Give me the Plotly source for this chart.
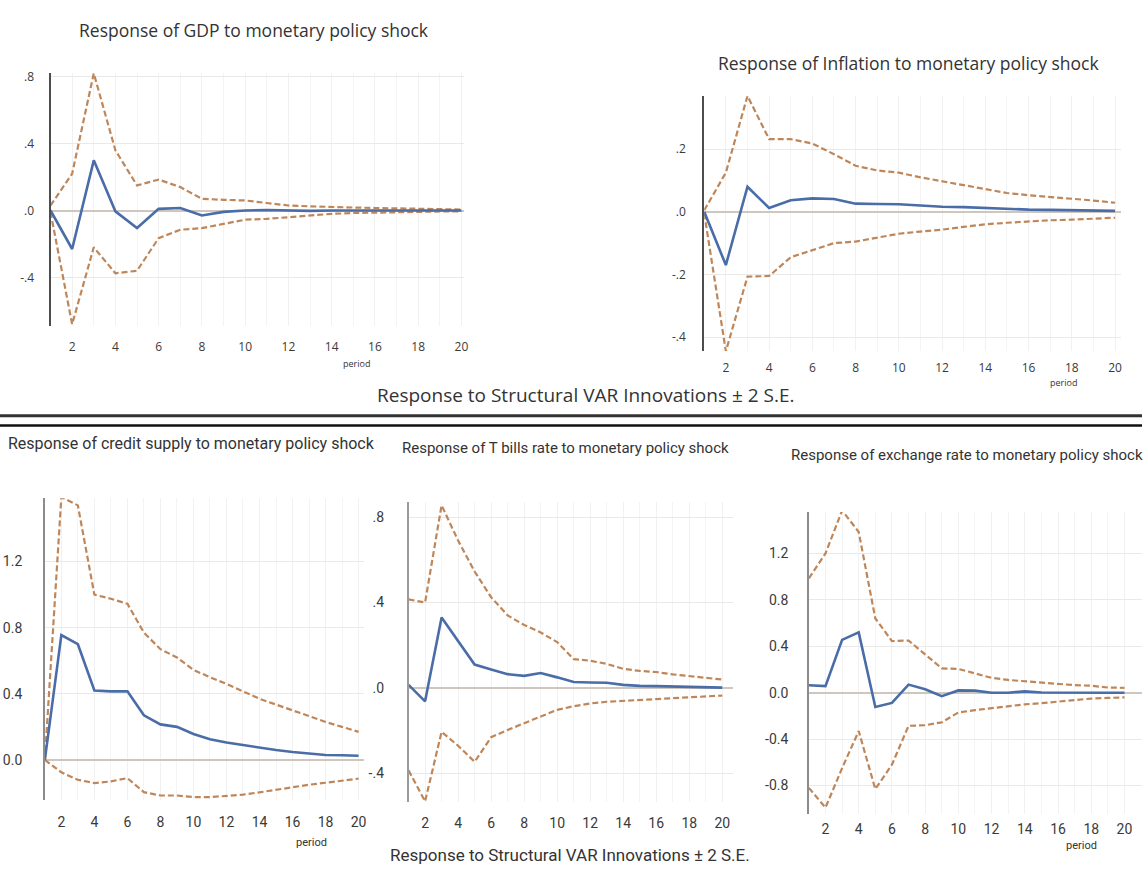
import plotly.graph_objects as go

# Impulse responses to a monetary policy shock, periods 1..20
periods = list(range(1, 21))

gdp_resp = [0.0, -0.23, 0.30, -0.005, -0.105, 0.01, 0.015, -0.03, -0.008, 0.0,
            0.003, 0.0, -0.002, 0.0, 0.0, 0.0, 0.0, 0.0, 0.0, 0.0]
gdp_upper = [0.03, 0.22, 0.82, 0.36, 0.15, 0.185, 0.14, 0.07, 0.064, 0.06,
             0.045, 0.03, 0.025, 0.02, 0.018, 0.015, 0.012, 0.01, 0.008, 0.006]
gdp_lower = [-0.01, -0.68, -0.22, -0.375, -0.36, -0.165, -0.115, -0.105, -0.08, -0.055,
             -0.05, -0.04, -0.03, -0.02, -0.015, -0.012, -0.01, -0.008, -0.006, -0.005]

infl_resp = [0.0, -0.17, 0.08, 0.012, 0.037, 0.043, 0.041, 0.026, 0.025, 0.024,
             0.02, 0.016, 0.015, 0.012, 0.01, 0.007, 0.006, 0.005, 0.004, 0.003]
infl_upper = [0.005, 0.125, 0.37, 0.232, 0.232, 0.218, 0.184, 0.147, 0.132, 0.125,
              0.11, 0.098, 0.085, 0.072, 0.06, 0.053, 0.048, 0.043, 0.036, 0.029]
infl_lower = [-0.005, -0.445, -0.207, -0.205, -0.145, -0.123, -0.10, -0.095, -0.082, -0.07,
              -0.063, -0.057, -0.048, -0.04, -0.035, -0.03, -0.027, -0.025, -0.022, -0.019]

credit_resp = [0.0, 0.755, 0.70, 0.42, 0.415, 0.415, 0.27, 0.215, 0.20, 0.157,
               0.125, 0.105, 0.09, 0.073, 0.06, 0.048, 0.04, 0.03, 0.028, 0.025]
credit_upper = [0.0, 1.59, 1.54, 1.0, 0.975, 0.945, 0.77, 0.67, 0.62, 0.545,
                0.50, 0.46, 0.415, 0.37, 0.335, 0.30, 0.265, 0.23, 0.20, 0.17]
credit_lower = [0.0, -0.075, -0.12, -0.14, -0.13, -0.11, -0.195, -0.215, -0.215, -0.225,
                -0.225, -0.218, -0.21, -0.196, -0.18, -0.163, -0.15, -0.138, -0.127, -0.113]

tbill_resp = [0.015, -0.062, 0.33, 0.218, 0.11, 0.087, 0.065, 0.057, 0.07, 0.05,
              0.028, 0.026, 0.025, 0.015, 0.01, 0.009, 0.008, 0.005, 0.004, 0.002]
tbill_upper = [0.415, 0.40, 0.855, 0.69, 0.545, 0.425, 0.34, 0.295, 0.26, 0.215,
               0.135, 0.128, 0.113, 0.09, 0.08, 0.075, 0.064, 0.056, 0.048, 0.04]
tbill_lower = [-0.385, -0.53, -0.205, -0.27, -0.345, -0.23, -0.196, -0.165, -0.133, -0.102,
               -0.085, -0.072, -0.064, -0.06, -0.056, -0.05, -0.047, -0.044, -0.04, -0.035]

fx_resp = [0.065, 0.057, 0.455, 0.52, -0.123, -0.088, 0.07, 0.03, -0.03, 0.02,
           0.018, 0.0, 0.0, 0.012, 0.002, 0.0, 0.0, 0.0, 0.0, 0.0]
fx_upper = [0.985, 1.20, 1.57, 1.385, 0.64, 0.445, 0.45, 0.33, 0.21, 0.205,
            0.168, 0.128, 0.11, 0.098, 0.085, 0.072, 0.065, 0.06, 0.045, 0.042]
fx_lower = [-0.82, -0.99, -0.65, -0.33, -0.83, -0.62, -0.285, -0.28, -0.255, -0.17,
            -0.15, -0.133, -0.12, -0.10, -0.09, -0.075, -0.065, -0.05, -0.045, -0.04]

x_tick_vals = [2, 4, 6, 8, 10, 12, 14, 16, 18, 20]
x_tick_text = ["2", "4", "6", "8", "10", "12", "14", "16", "18", "20"]

gdp_ticks = ([-0.4, 0.0, 0.4, 0.8], ["-.4", ".0", ".4", ".8"])
infl_ticks = ([-0.4, -0.2, 0.0, 0.2], ["-.4", "-.2", ".0", ".2"])
credit_ticks = ([0.0, 0.4, 0.8, 1.2], ["0.0", "0.4", "0.8", "1.2"])
tbill_ticks = ([-0.4, 0.0, 0.4, 0.8], ["-.4", ".0", ".4", ".8"])
fx_ticks = ([-0.8, -0.4, 0.0, 0.4, 0.8, 1.2], ["-0.8", "-0.4", "0.0", "0.4", "0.8", "1.2"])

W, H = 1146, 871
BLUE = "#4a6da8"
ORANGE = "#bf8659"
TOP_FONT = "Open Sans, Noto Sans, sans-serif"
NARROW_FONT = "Roboto, Liberation Sans, sans-serif"


def px(x):
    return x / W


def py(y):
    return 1 - y / H


# Panel geometry in page pixels: left edge (period 1), right edge, pixels per period,
# top, bottom, pixel row of zero, value per pixel
panels = [
    dict(resp=gdp_resp, up=gdp_upper, lo=gdp_lower, ticks=gdp_ticks,
         x0=50.7, x1=466, ppp=21.7, top=68, bot=323.3, zero=206.7, upp=0.4 / 67.3,
         axis_color="#4d4d4d", axis_w=2, font=TOP_FONT, tick_size=12,
         ystand=12, xstand=12),
    dict(resp=infl_resp, up=infl_upper, lo=infl_lower, ticks=infl_ticks,
         x0=706.7, x1=1125, ppp=21.7, top=91.7, bot=348.3, zero=208, upp=0.2 / 63,
         axis_color="#4d4d4d", axis_w=2, font=TOP_FONT, tick_size=12,
         ystand=14, xstand=8),
    dict(resp=credit_resp, up=credit_upper, lo=credit_lower, ticks=credit_ticks,
         x0=45, x1=365, ppp=16.57, top=496, bot=800, zero=759.3, upp=0.4 / 66.5,
         axis_color="#8c8c8c", axis_w=1.5, font=NARROW_FONT, tick_size=14,
         ystand=18, xstand=12),
    dict(resp=tbill_resp, up=tbill_upper, lo=tbill_lower, ticks=tbill_ticks,
         x0=410, x1=736, ppp=16.57, top=500, bot=801.7, zero=687, upp=0.4 / 86,
         axis_color="#9a9a9a", axis_w=1.5, font=NARROW_FONT, tick_size=14,
         ystand=20, xstand=11),
    dict(resp=fx_resp, up=fx_upper, lo=fx_lower, ticks=fx_ticks,
         x0=811.7, x1=1146, ppp=16.67, top=510, bot=813.3, zero=691.7, upp=0.4 / 46.7,
         axis_color="#8c8c8c", axis_w=1.5, font=NARROW_FONT, tick_size=14,
         ystand=16, xstand=5),
]

fig = go.Figure()
layout_axes = {}

for i, p in enumerate(panels, start=1):
    xa = "x" if i == 1 else f"x{i}"
    ya = "y" if i == 1 else f"y{i}"
    for series, color, dash, width in ((p["up"], ORANGE, "6px,3px", 2.2),
                                       (p["lo"], ORANGE, "6px,3px", 2.2),
                                       (p["resp"], BLUE, "solid", 2.6)):
        fig.add_trace(go.Scatter(x=periods, y=series, mode="lines",
                                 line=dict(color=color, dash=dash, width=width),
                                 xaxis=xa, yaxis=ya, showlegend=False,
                                 hoverinfo="skip"))
    x_max = 1 + (p["x1"] - p["x0"]) / p["ppp"]
    y_max = (p["zero"] - p["top"]) * p["upp"]
    y_min = -(p["bot"] - p["zero"]) * p["upp"]
    key = "" if i == 1 else str(i)
    layout_axes[f"xaxis{key}"] = dict(
        domain=[px(p["x0"]), min(px(p["x1"]), 1.0)], range=[1, x_max],
        anchor=ya, tickvals=x_tick_vals, ticktext=x_tick_text,
        showline=False, zeroline=False, showgrid=True, gridcolor="#f1f1f1",
        gridwidth=1, ticks="", ticklabelstandoff=p["xstand"],
        minor=dict(dtick=1, tick0=1, showgrid=True, gridcolor="#f4f4f4", gridwidth=1),
        tickfont=dict(family=p["font"], size=p["tick_size"], color="#3a3a3a"),
        fixedrange=True,
    )
    layout_axes[f"yaxis{key}"] = dict(
        domain=[py(p["bot"]), py(p["top"])], range=[y_min, y_max],
        anchor=xa, tickvals=p["ticks"][0], ticktext=p["ticks"][1],
        showline=True, linecolor=p["axis_color"], linewidth=p["axis_w"],
        zeroline=True, zerolinecolor="#cfc6bd", zerolinewidth=1.5,
        showgrid=True, gridcolor="#e9e9e9", gridwidth=1, ticks="",
        ticklabelstandoff=p["ystand"],
        tickfont=dict(family=p["font"], size=p["tick_size"], color="#3a3a3a"),
        fixedrange=True,
    )

annotations = []


def label(text, x, y, size, family, anchor="center", color="#333333"):
    annotations.append(dict(text=text, x=px(x), y=py(y), xref="paper", yref="paper",
                            xanchor=anchor, yanchor="middle", showarrow=False,
                            font=dict(family=family, size=size, color=color)))


label("Response of GDP to monetary policy shock", 255, 25, 17.5, TOP_FONT)
label("Response of Inflation to monetary policy shock", 912, 58, 17.5, TOP_FONT)
label("Response to Structural VAR Innovations ± 2 S.E.", 588, 392, 19, TOP_FONT)
label("Response of credit supply to monetary policy shock", 192, 441, 16, NARROW_FONT)
label("Response of T bills rate to monetary policy shock", 567, 446, 15, NARROW_FONT)
label("Response of exchange rate to monetary policy shock", 792, 453, 15, NARROW_FONT,
      anchor="left")
label("Response to Structural VAR Innovations ± 2 S.E.", 572, 855, 17, NARROW_FONT)
label("period", 358, 361, 9, TOP_FONT)
label("period", 1067, 380, 9, TOP_FONT)
label("period", 313, 842, 11, NARROW_FONT)
label("period", 1085, 845, 11, NARROW_FONT)

shapes = [
    dict(type="line", xref="paper", yref="paper", x0=0, x1=1, y0=py(413), y1=py(413),
         line=dict(color="#333333", width=3)),
    dict(type="line", xref="paper", yref="paper", x0=0, x1=1, y0=py(423), y1=py(423),
         line=dict(color="#111111", width=2.5)),
]

fig.update_layout(
    width=W, height=H, margin=dict(l=0, r=0, t=0, b=0),
    paper_bgcolor="white", plot_bgcolor="white",
    annotations=annotations, shapes=shapes, showlegend=False,
    **layout_axes,
)

fig.write_html("out.html", config={"displayModeBar": False})
